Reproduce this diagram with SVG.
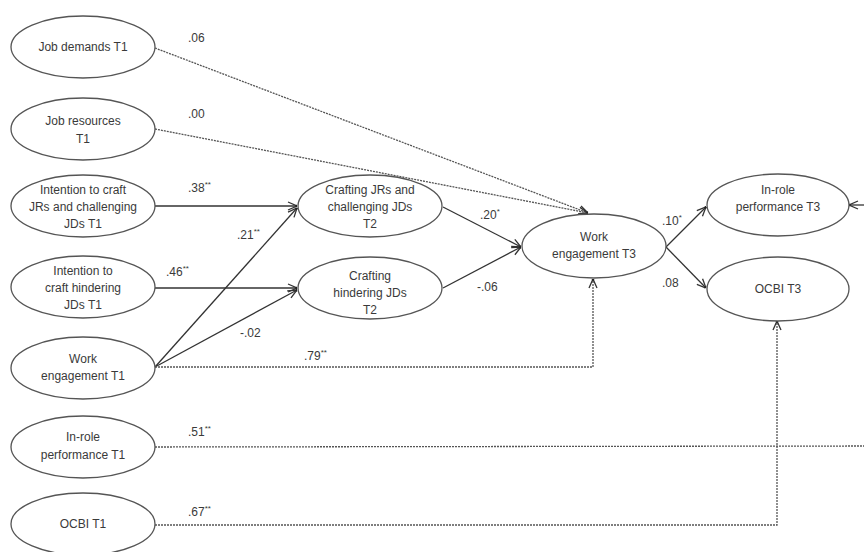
<svg xmlns="http://www.w3.org/2000/svg" width="864" height="552" viewBox="0 0 864 552">
<defs>
<style>
.n ellipse{fill:#fff;stroke:#555;stroke-width:1.3}
.n text{font-family:"Liberation Sans",Arial,sans-serif;font-size:12px;fill:#3a3a3a;text-anchor:middle}
.s{fill:none;stroke:#333;stroke-width:1.3}
.d{fill:none;stroke:#555;stroke-width:1.3;stroke-dasharray:2 1}
.lb{font-family:"Liberation Sans",Arial,sans-serif;font-size:12px;fill:#3a3a3a}
.sup{font-size:8px}
</style>
<marker id="ah" viewBox="0 0 10 10" refX="10" refY="5" markerWidth="10" markerHeight="10" markerUnits="userSpaceOnUse" orient="auto">
<path d="M1,1 L10,5 L1,9" fill="none" stroke="#333" stroke-width="1.3"/>
<circle cx="9.5" cy="5" r="1.2" fill="#222"/>
</marker>
</defs>
<rect width="864" height="552" fill="#fff"/>

<g id="connectors">
<line class="d" x1="155" y1="48" x2="588" y2="213" marker-end="url(#ah)"/>
<line class="d" x1="155" y1="129" x2="588" y2="213" marker-end="url(#ah)"/>
<line class="s" x1="155" y1="206" x2="297" y2="206" marker-end="url(#ah)"/>
<line class="s" x1="155" y1="288" x2="297" y2="288" marker-end="url(#ah)"/>
<line class="s" x1="155" y1="367" x2="297" y2="208" marker-end="url(#ah)"/>
<line class="s" x1="155" y1="367" x2="297" y2="290" marker-end="url(#ah)"/>
<polyline class="d" points="155,367 593,367 593,279" marker-end="url(#ah)"/>
<line class="s" x1="443" y1="207" x2="521" y2="247" marker-end="url(#ah)"/>
<line class="s" x1="443" y1="288" x2="521" y2="247" marker-end="url(#ah)"/>
<line class="s" x1="666" y1="247" x2="706" y2="207" marker-end="url(#ah)"/>
<line class="s" x1="666" y1="247" x2="706" y2="288" marker-end="url(#ah)"/>
<line class="d" x1="155" y1="447" x2="864" y2="446"/>
<polyline class="d" points="155,525 777,525 777,321" marker-end="url(#ah)"/>
<line class="s" x1="864" y1="205" x2="849" y2="205" marker-end="url(#ah)"/>

<text class="lb" x="188" y="42">.06</text>
<text class="lb" x="188" y="118">.00</text>
<text class="lb" x="188" y="192">.38<tspan class="sup" dy="-5">**</tspan></text>
<text class="lb" x="237" y="239">.21<tspan class="sup" dy="-5">**</tspan></text>
<text class="lb" x="166" y="276">.46<tspan class="sup" dy="-5">**</tspan></text>
<text class="lb" x="240" y="337">-.02</text>
<text class="lb" x="304" y="360">.79<tspan class="sup" dy="-5">**</tspan></text>
<text class="lb" x="188" y="436">.51<tspan class="sup" dy="-5">**</tspan></text>
<text class="lb" x="188" y="516">.67<tspan class="sup" dy="-5">**</tspan></text>
<text class="lb" x="480" y="219">.20<tspan class="sup" dy="-5">*</tspan></text>
<text class="lb" x="477" y="291">-.06</text>
<text class="lb" x="662" y="225">.10<tspan class="sup" dy="-5">*</tspan></text>
<text class="lb" x="662" y="287">.08</text>
</g>

<g id="job-demands-t1" class="n"><ellipse cx="83" cy="47" rx="72" ry="31"/><text x="83" y="51">Job demands T1</text></g>
<g id="job-resources-t1" class="n"><ellipse cx="83" cy="129" rx="72" ry="31"/><text x="83" y="125">Job resources</text><text x="83" y="143">T1</text></g>
<g id="intention-jr-t1" class="n"><ellipse cx="83" cy="206" rx="72" ry="31"/><text x="83" y="194">Intention to craft</text><text x="83" y="211">JRs and challenging</text><text x="83" y="228">JDs T1</text></g>
<g id="intention-h-t1" class="n"><ellipse cx="83" cy="287" rx="72" ry="31"/><text x="83" y="275">Intention to</text><text x="83" y="292">craft hindering</text><text x="83" y="309">JDs T1</text></g>
<g id="work-engagement-t1" class="n"><ellipse cx="83" cy="368" rx="72" ry="31"/><text x="83" y="363">Work</text><text x="83" y="380">engagement T1</text></g>
<g id="inrole-t1" class="n"><ellipse cx="83" cy="447" rx="72" ry="31"/><text x="83" y="441">In-role</text><text x="83" y="459">performance T1</text></g>
<g id="ocbi-t1" class="n"><ellipse cx="83" cy="524" rx="72" ry="31"/><text x="83" y="528">OCBI T1</text></g>
<g id="crafting-jr-t2" class="n"><ellipse cx="370" cy="206" rx="72" ry="31"/><text x="370" y="194">Crafting JRs and</text><text x="370" y="211">challenging JDs</text><text x="370" y="228">T2</text></g>
<g id="crafting-h-t2" class="n"><ellipse cx="370" cy="288" rx="72" ry="31"/><text x="370" y="280">Crafting</text><text x="370" y="297">hindering JDs</text><text x="370" y="314">T2</text></g>
<g id="work-engagement-t3" class="n"><ellipse cx="594" cy="246" rx="72" ry="32"/><text x="594" y="241">Work</text><text x="594" y="258">engagement T3</text></g>
<g id="inrole-t3" class="n"><ellipse cx="778" cy="205" rx="71" ry="31"/><text x="778" y="194">In-role</text><text x="778" y="211">performance T3</text></g>
<g id="ocbi-t3" class="n"><ellipse cx="778" cy="289" rx="71" ry="32"/><text x="778" y="293">OCBI T3</text></g>
</svg>
